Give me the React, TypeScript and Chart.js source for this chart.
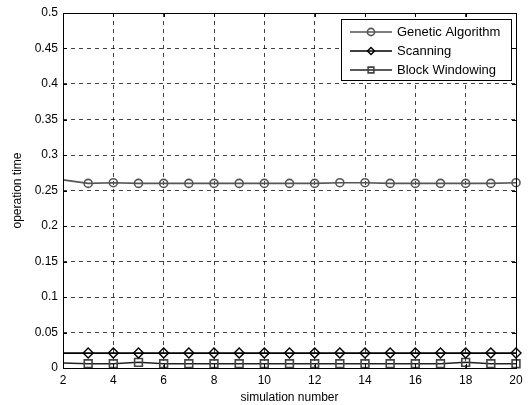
import React, { useEffect, useRef } from "react";
import { Chart, registerables } from "chart.js";
Chart.register(...registerables);

const simulationNumbers = [2, 3, 4, 5, 6, 7, 8, 9, 10, 11, 12, 13, 14, 15, 16, 17, 18, 19, 20];
const geneticAlgorithm = [0.265, 0.26, 0.261, 0.26, 0.26, 0.26, 0.26, 0.26, 0.26, 0.26, 0.26, 0.261, 0.261, 0.26, 0.26, 0.26, 0.26, 0.26, 0.261];
const scanning = [0.021, 0.021, 0.021, 0.021, 0.021, 0.021, 0.021, 0.021, 0.021, 0.021, 0.021, 0.021, 0.021, 0.021, 0.021, 0.021, 0.021, 0.021, 0.021];
const blockWindowing = [0.007, 0.006, 0.006, 0.008, 0.006, 0.006, 0.006, 0.006, 0.006, 0.006, 0.006, 0.006, 0.006, 0.006, 0.006, 0.006, 0.008, 0.006, 0.006];
const xTicks = [2, 4, 6, 8, 10, 12, 14, 16, 18, 20];
const yTicks = [0, 0.05, 0.1, 0.15, 0.2, 0.25, 0.3, 0.35, 0.4, 0.45, 0.5];
const seriesLabels = ["Genetic Algorithm", "Scanning", "Block Windowing"];

const FONT = "'Liberation Sans', Arial, sans-serif";

function drawMarker(ctx: CanvasRenderingContext2D, style: string, x: number, y: number, r: number) {
  ctx.beginPath();
  if (style === "circle") {
    ctx.arc(x, y, r, 0, Math.PI * 2);
  } else if (style === "rectRot") {
    ctx.moveTo(x, y - r);
    ctx.lineTo(x + r, y);
    ctx.lineTo(x, y + r);
    ctx.lineTo(x - r, y);
    ctx.closePath();
  } else {
    ctx.rect(x - r * 0.8, y - r * 0.8, r * 1.6, r * 1.6);
  }
  ctx.stroke();
}

const framePlugin = {
  id: "frame",
  afterDraw(chart: any) {
    const { ctx, chartArea: a, scales } = chart;
    ctx.save();
    ctx.strokeStyle = "#000";
    ctx.lineWidth = 1;
    ctx.setLineDash([]);
    ctx.strokeRect(Math.round(a.left) + 0.5, Math.round(a.top) + 0.5, Math.round(a.right - a.left), Math.round(a.bottom - a.top));
    const t = 4;
    ctx.beginPath();
    xTicks.forEach((v) => {
      const px = Math.round(scales.x.getPixelForValue(v)) + 0.5;
      ctx.moveTo(px, a.bottom);
      ctx.lineTo(px, a.bottom - t);
      ctx.moveTo(px, a.top);
      ctx.lineTo(px, a.top + t);
    });
    yTicks.forEach((v) => {
      const py = Math.round(scales.y.getPixelForValue(v)) + 0.5;
      ctx.moveTo(a.left, py);
      ctx.lineTo(a.left + t, py);
      ctx.moveTo(a.right, py);
      ctx.lineTo(a.right - t, py);
    });
    ctx.stroke();

    // legend
    const lx = 341.5, ly = 19.5, lw = 170, lh = 61;
    ctx.fillStyle = "#fff";
    ctx.fillRect(lx, ly, lw, lh);
    ctx.strokeStyle = "#000";
    ctx.strokeRect(lx, ly, lw, lh);
    ctx.font = `13px ${FONT}`;
    ctx.textBaseline = "middle";
    chart.data.datasets.forEach((ds: any, i: number) => {
      const y = 32 + i * 19;
      ctx.strokeStyle = ds.borderColor;
      ctx.lineWidth = ds.borderWidth;
      ctx.beginPath();
      ctx.moveTo(350, y);
      ctx.lineTo(392, y);
      ctx.stroke();
      ctx.strokeStyle = ds.pointBorderColor;
      ctx.lineWidth = ds.pointBorderWidth;
      drawMarker(ctx, ds.pointStyle, 371, y, 3.6);
      ctx.fillStyle = "#000";
      ctx.fillText(ds.label, 397, y + 0.5);
    });
    ctx.restore();
  },
};

export default function App() {
  const ref = useRef<HTMLCanvasElement>(null);
  useEffect(() => {
    if (!ref.current) return;
    const mkR = (r: number) => simulationNumbers.map((_, i) => (i === 0 ? 0 : r));
    const mk = (vals: number[]) => simulationNumbers.map((x, i) => ({ x, y: vals[i] }));
    const chart = new Chart(ref.current, {
      type: "line",
      data: {
        datasets: [
          {
            label: seriesLabels[0],
            data: mk(geneticAlgorithm),
            borderColor: "#555555",
            borderWidth: 1.6,
            pointStyle: "circle",
            pointRadius: mkR(4),
            pointBorderColor: "#555555",
            pointBorderWidth: 1.6,
            pointBackgroundColor: "rgba(0,0,0,0)",
            clip: false,
          },
          {
            label: seriesLabels[1],
            data: mk(scanning),
            borderColor: "#000000",
            borderWidth: 1.6,
            pointStyle: "rectRot",
            pointRadius: mkR(5),
            pointBorderColor: "#000000",
            pointBorderWidth: 1.4,
            pointBackgroundColor: "rgba(0,0,0,0)",
            clip: false,
          },
          {
            label: seriesLabels[2],
            data: mk(blockWindowing),
            borderColor: "#222222",
            borderWidth: 1.4,
            pointStyle: "rect",
            pointRadius: mkR(5.5),
            pointBorderColor: "#444444",
            pointBorderWidth: 1.6,
            pointBackgroundColor: "rgba(0,0,0,0)",
            clip: false,
          },
        ],
      },
      options: {
        animation: false,
        responsive: false,
        devicePixelRatio: 1,
        layout: { padding: { top: 13, right: 12, left: 0, bottom: 0 } },
        plugins: { legend: { display: false }, tooltip: { enabled: false } },
        scales: {
          x: {
            type: "linear",
            min: 2,
            max: 20,
            afterBuildTicks: (s: any) => {
              s.ticks = xTicks.map((v) => ({ value: v }));
            },
            afterFit: (s: any) => {
              s.height = 37;
            },
            ticks: {
              color: "#000",
              font: { family: FONT, size: 12 },
              padding: 5,
              maxRotation: 0,
              callback: (v: any) => String(v),
            },
            grid: { color: "rgba(0,0,0,0.75)", lineWidth: 1, drawTicks: false },
            border: { display: false, dash: [4, 4] },
            title: {
              display: true,
              text: "simulation number",
              color: "#000",
              font: { family: FONT, size: 12 },
              padding: { top: 0, bottom: 0 },
            },
          },
          y: {
            type: "linear",
            min: 0,
            max: 0.5,
            afterBuildTicks: (s: any) => {
              s.ticks = yTicks.map((v) => ({ value: v }));
            },
            afterFit: (s: any) => {
              s.width = 63;
            },
            ticks: {
              color: "#000",
              font: { family: FONT, size: 12 },
              padding: 5,
              callback: (v: any) => String(Math.round(v * 100) / 100),
            },
            grid: { color: "rgba(0,0,0,0.75)", lineWidth: 1, drawTicks: false },
            border: { display: false, dash: [4, 4] },
            title: {
              display: true,
              text: "operation time",
              color: "#000",
              font: { family: FONT, size: 12 },
              padding: { top: 10, bottom: 0 },
            },
          },
        },
      },
      plugins: [framePlugin],
    } as any);
    return () => chart.destroy();
  }, []);
  return (
    <div style={{ position: "fixed", left: 0, top: 0, width: 528, height: 405, background: "#fff" }}>
      <canvas ref={ref} width={528} height={405} style={{ width: 528, height: 405, display: "block" }} />
    </div>
  );
}
